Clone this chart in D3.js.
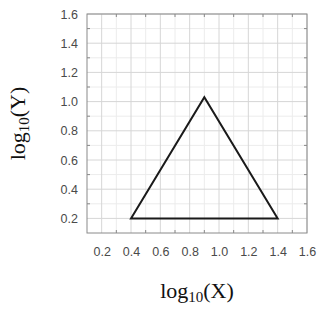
<!DOCTYPE html>
<html><head><meta charset="utf-8">
<script src="https://cdn.jsdelivr.net/npm/d3@7"></script>
<style>body{margin:0;background:#fff}</style>
</head><body>
<script>
const triX = [0.4, 0.9, 1.4];
const triY = [0.2, 1.03, 0.2];
const xTicks = [0.2, 0.4, 0.6, 0.8, 1.0, 1.2, 1.4, 1.6];
const yTicks = [0.2, 0.4, 0.6, 0.8, 1.0, 1.2, 1.4, 1.6];
const minorTicks = [0.3, 0.5, 0.7, 0.9, 1.1, 1.3, 1.5];

const W = 320, H = 313;
const m = {l: 87, r: 13, t: 14, b: 80};
const svg = d3.select("body").append("svg").attr("width", W).attr("height", H);
const x = d3.scaleLinear().domain([0.1, 1.6]).range([m.l, W - m.r]);
const y = d3.scaleLinear().domain([0.1, 1.6]).range([H - m.b, m.t]);

const g = svg.append("g");
g.selectAll(".mx").data(minorTicks).join("line")
  .attr("x1", d => x(d)).attr("x2", d => x(d)).attr("y1", y(0.1)).attr("y2", y(1.6))
  .attr("stroke", "#ececec").attr("stroke-width", 1);
g.selectAll(".my").data(minorTicks).join("line")
  .attr("y1", d => y(d)).attr("y2", d => y(d)).attr("x1", x(0.1)).attr("x2", x(1.6))
  .attr("stroke", "#ececec").attr("stroke-width", 1);
g.selectAll(".gx").data(xTicks).join("line")
  .attr("x1", d => x(d)).attr("x2", d => x(d)).attr("y1", y(0.1)).attr("y2", y(1.6))
  .attr("stroke", "#d6d6d6").attr("stroke-width", 1);
g.selectAll(".gy").data(yTicks).join("line")
  .attr("y1", d => y(d)).attr("y2", d => y(d)).attr("x1", x(0.1)).attr("x2", x(1.6))
  .attr("stroke", "#d6d6d6").attr("stroke-width", 1);

const tk = 3;
minorTicks.forEach(v => {
  g.append("line").attr("x1", x(v)).attr("x2", x(v)).attr("y1", y(0.1)).attr("y2", y(0.1) - tk).attr("stroke", "#888");
  g.append("line").attr("x1", x(v)).attr("x2", x(v)).attr("y1", y(1.6)).attr("y2", y(1.6) + tk).attr("stroke", "#888");
  g.append("line").attr("y1", y(v)).attr("y2", y(v)).attr("x1", x(0.1)).attr("x2", x(0.1) + tk).attr("stroke", "#888");
  g.append("line").attr("y1", y(v)).attr("y2", y(v)).attr("x1", x(1.6)).attr("x2", x(1.6) - tk).attr("stroke", "#888");
});

g.append("rect").attr("x", x(0.1)).attr("y", y(1.6))
  .attr("width", x(1.6) - x(0.1)).attr("height", y(0.1) - y(1.6))
  .attr("fill", "none").attr("stroke", "#8a8a8a").attr("stroke-width", 1);

const xAxis = d3.axisBottom(x).tickValues(xTicks).tickFormat(d3.format(".1f")).tickSize(0).tickPadding(14);
const yAxis = d3.axisLeft(y).tickValues(yTicks).tickFormat(d3.format(".1f")).tickSize(0).tickPadding(9);
const ax = svg.append("g").attr("transform", `translate(0,${y(0.1)})`).call(xAxis);
const ay = svg.append("g").attr("transform", `translate(${x(0.1)},0)`).call(yAxis);
[ax, ay].forEach(a => {
  a.select(".domain").remove();
  a.selectAll("text").attr("font-family", "Arial, 'Liberation Sans', sans-serif")
    .attr("font-size", 12.5).attr("fill", "#4a4a4a");
});

const pts = triX.map((v, i) => [x(v), y(triY[i])]);
svg.append("path").attr("d", d3.line()(pts) + "Z")
  .attr("fill", "none").attr("stroke", "#1a1a1a").attr("stroke-width", 2).attr("stroke-linejoin", "miter");

const xt = svg.append("text").attr("x", (x(0.1) + x(1.6)) / 2).attr("y", 298)
  .attr("text-anchor", "middle").attr("font-family", "'Liberation Serif', serif").attr("font-size", 22).attr("fill", "#111");
xt.append("tspan").text("log");
xt.append("tspan").attr("font-size", 15).attr("dy", 4).text("10");
xt.append("tspan").attr("dy", -4).text("(X)");
const yt = svg.append("text").attr("transform", `translate(25,${(y(0.1) + y(1.6)) / 2}) rotate(-90)`)
  .attr("text-anchor", "middle").attr("font-family", "'Liberation Serif', serif").attr("font-size", 22).attr("fill", "#111");
yt.append("tspan").text("log");
yt.append("tspan").attr("font-size", 15).attr("dy", 4).text("10");
yt.append("tspan").attr("dy", -4).text("(Y)");
</script>
</body></html>
